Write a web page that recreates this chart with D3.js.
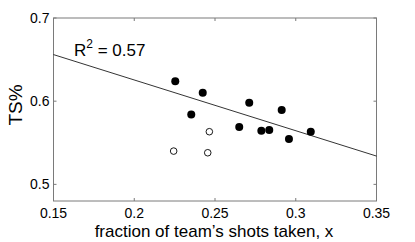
<!DOCTYPE html>
<html>
<head>
<meta charset="utf-8">
<script src="https://cdn.jsdelivr.net/npm/d3@7"></script>
<style>
  body { margin: 0; background: #fff; }
  text { font-family: "Liberation Sans", Arial, sans-serif; fill: #000; }
</style>
</head>
<body>
<script>
// filled points
const shotFrac = [0.2254, 0.2424, 0.2353, 0.2712, 0.2650, 0.2787, 0.2836, 0.2913, 0.2958, 0.3093];
const tsPct = [0.624, 0.610, 0.584, 0.598, 0.569, 0.5645, 0.5654, 0.5894, 0.5546, 0.5633];
// open points
const openFrac = [0.2465, 0.2244, 0.2455];
const openTs = [0.5633, 0.540, 0.538];
// fitted line
const fitX = [0.15, 0.35];
const fitY = [0.656, 0.534];
const xTicks = [0.15, 0.2, 0.25, 0.3, 0.35];
const yTicks = [0.5, 0.6, 0.7];

const width = 415, height = 242;
const plotL = 53.5, plotR = 376.5, plotT = 18, plotB = 201;

const svg = d3.select('body').append('svg')
    .attr('width', width)
    .attr('height', height);

const x = d3.scaleLinear().domain([0.15, 0.35]).range([plotL, plotR]);
const y = d3.scaleLinear().domain([0.48, 0.7]).range([plotB, plotT]);

const axisColor = '#7a7a7a';

// box
svg.append('rect')
   .attr('x', plotL).attr('y', plotT)
   .attr('width', plotR - plotL).attr('height', plotB - plotT)
   .attr('fill', 'none').attr('stroke', axisColor).attr('stroke-width', 1);

// ticks, inward, mirrored
const tick = 3;
xTicks.forEach(t => {
    svg.append('line').attr('x1', x(t)).attr('x2', x(t)).attr('y1', plotB).attr('y2', plotB - tick).attr('stroke', axisColor);
    svg.append('line').attr('x1', x(t)).attr('x2', x(t)).attr('y1', plotT).attr('y2', plotT + tick).attr('stroke', axisColor);
    svg.append('text').attr('x', x(t)).attr('y', plotB + 17)
       .attr('text-anchor', 'middle').attr('font-size', 14).text(t);
});
yTicks.forEach(t => {
    svg.append('line').attr('x1', plotL).attr('x2', plotL + tick).attr('y1', y(t)).attr('y2', y(t)).attr('stroke', axisColor);
    svg.append('line').attr('x1', plotR).attr('x2', plotR - tick).attr('y1', y(t)).attr('y2', y(t)).attr('stroke', axisColor);
    svg.append('text').attr('x', plotL - 4).attr('y', y(t) + 5)
       .attr('text-anchor', 'end').attr('font-size', 14).text(t);
});

// regression line
svg.append('line')
   .attr('x1', x(fitX[0])).attr('y1', y(fitY[0]))
   .attr('x2', x(fitX[1])).attr('y2', y(fitY[1]))
   .attr('stroke', '#000').attr('stroke-width', 0.8);

svg.selectAll('circle.filled')
   .data(shotFrac)
   .enter().append('circle')
   .attr('class', 'filled')
   .attr('cx', d => x(d))
   .attr('cy', (d, i) => y(tsPct[i]))
   .attr('r', 4)
   .attr('fill', '#000');

svg.selectAll('circle.open')
   .data(openFrac)
   .enter().append('circle')
   .attr('class', 'open')
   .attr('cx', d => x(d))
   .attr('cy', (d, i) => y(openTs[i]))
   .attr('r', 3.3)
   .attr('fill', '#fff')
   .attr('stroke', '#000')
   .attr('stroke-width', 0.9);

// R^2 annotation
const r2 = svg.append('text').attr('x', 74).attr('y', 56).attr('font-size', 17);
r2.append('tspan').text('R');
r2.append('tspan').attr('dy', -8).attr('font-size', 12).text('2');
r2.append('tspan').attr('dy', 8).text(' = 0.57');

// axis labels
svg.append('text').attr('x', (plotL + plotR) / 2 - 1).attr('y', 237)
   .attr('text-anchor', 'middle').attr('font-size', 17)
   .text('fraction of team\u2019s shots taken, x');

svg.append('text')
   .attr('transform', 'translate(22, 105) rotate(-90)')
   .attr('text-anchor', 'middle').attr('font-size', 19)
   .text('TS%');
</script>
</body>
</html>
